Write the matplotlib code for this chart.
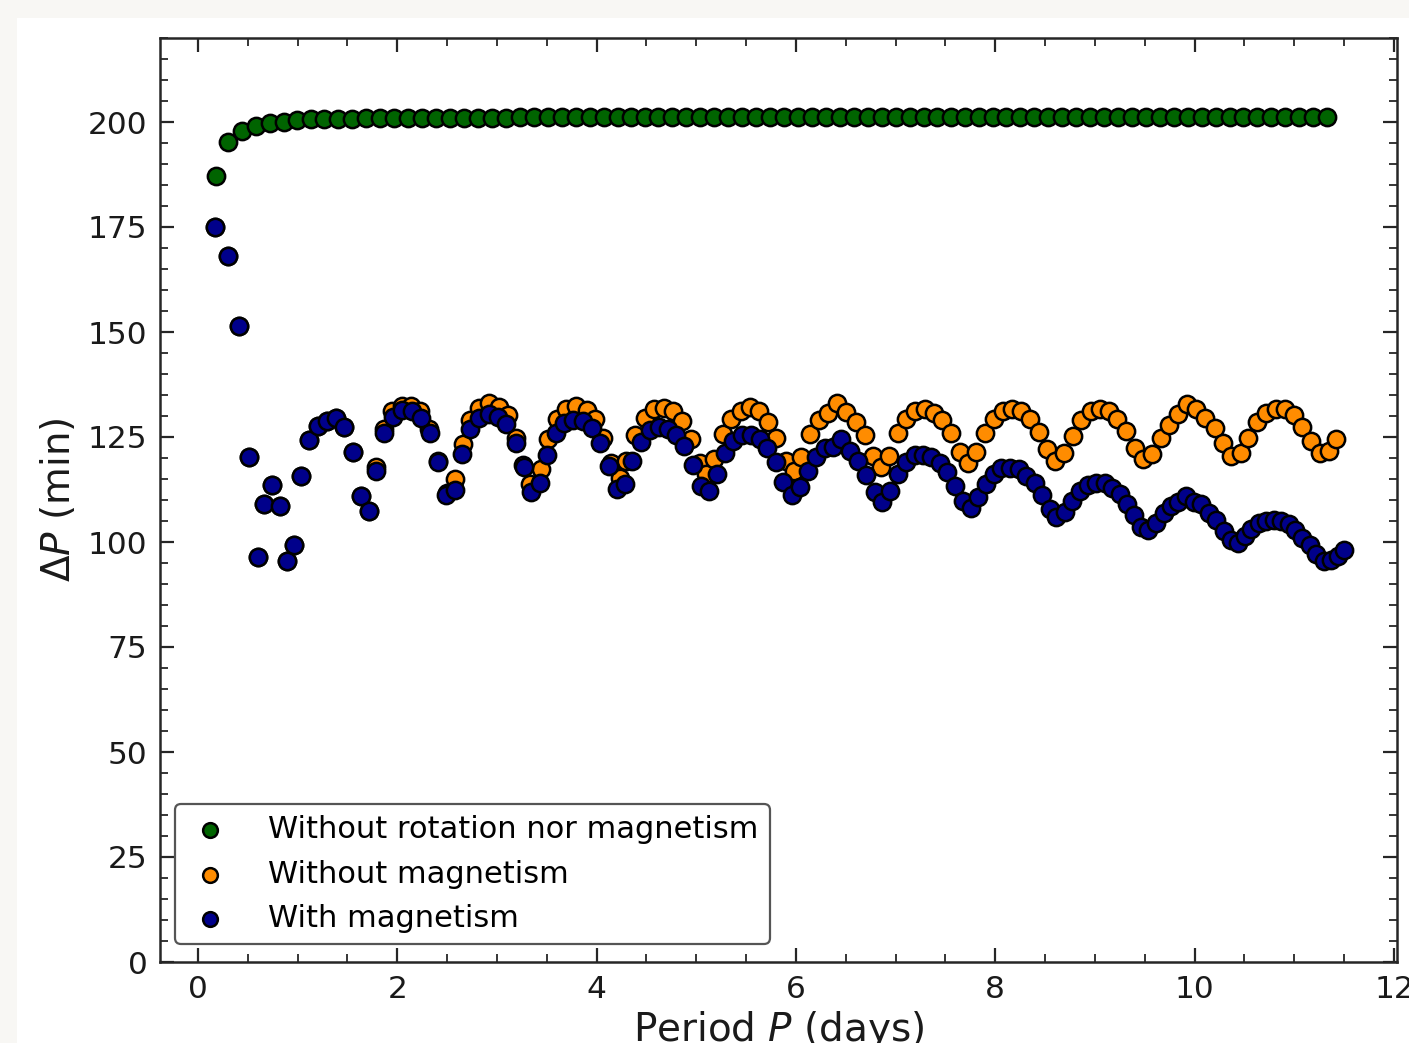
import matplotlib
matplotlib.use("Agg")
import matplotlib.pyplot as plt
from matplotlib.patches import Rectangle

# === Данные: без вращения и магнетизма ===
p_green = [0.18, 0.30, 0.44, 0.58, 0.72, 0.86, 0.99, 1.13, 1.27, 1.41, 1.55, 1.69,
           1.83, 1.97, 2.11, 2.25, 2.39, 2.53, 2.67, 2.81, 2.95, 3.09, 3.23, 3.37,
           3.51, 3.65, 3.79, 3.93, 4.07, 4.21, 4.35, 4.49, 4.62, 4.76, 4.90, 5.04,
           5.18, 5.32, 5.46, 5.60, 5.74, 5.88, 6.02, 6.16, 6.30, 6.44, 6.58, 6.72,
           6.86, 7.00, 7.14, 7.28, 7.42, 7.56, 7.70, 7.84, 7.98, 8.11, 8.25, 8.39,
           8.53, 8.67, 8.81, 8.95, 9.09, 9.23, 9.37, 9.51, 9.65, 9.79, 9.93, 10.07,
           10.21, 10.35, 10.49, 10.63, 10.77, 10.91, 11.05, 11.19, 11.33]
dp_green = [187.2, 195.2, 197.9, 199.0, 199.7, 200.1, 200.4, 200.6, 200.7, 200.8,
            200.8, 200.9, 200.9, 200.9, 201.0, 201.0, 201.0, 201.0, 201.0, 201.0,
            201.0, 201.0, 201.1, 201.1, 201.1, 201.1, 201.1, 201.1, 201.1, 201.1,
            201.1, 201.1, 201.1, 201.1, 201.1, 201.1, 201.1, 201.1, 201.1, 201.1,
            201.1, 201.2, 201.2, 201.2, 201.2, 201.2, 201.2, 201.2, 201.2, 201.2,
            201.2, 201.2, 201.2, 201.2, 201.2, 201.2, 201.2, 201.2, 201.2, 201.2,
            201.2, 201.2, 201.2, 201.2, 201.2, 201.2, 201.2, 201.2, 201.2, 201.2,
            201.2, 201.2, 201.2, 201.2, 201.2, 201.2, 201.2, 201.2, 201.2, 201.2,
            201.2]

# === Данные: с магнетизмом ===
p_blue = [0.176, 0.301, 0.411, 0.517, 0.599, 0.667, 0.739, 0.822, 0.898, 0.963,
          1.033, 1.113, 1.201, 1.294, 1.381, 1.467, 1.555, 1.638, 1.715, 1.792,
          1.871, 1.956, 2.051, 2.146, 2.242, 2.327, 2.410, 2.494, 2.578, 2.645,
          2.728, 2.822, 2.916, 3.012, 3.096, 3.190, 3.270, 3.347, 3.430, 3.498,
          3.588, 3.671, 3.764, 3.859, 3.955, 4.032, 4.122, 4.200, 4.283, 4.360,
          4.443, 4.534, 4.624, 4.717, 4.801, 4.877, 4.968, 5.045, 5.128, 5.213,
          5.286, 5.369, 5.459, 5.554, 5.637, 5.714, 5.797, 5.875, 5.965, 6.045,
          6.121, 6.199, 6.289, 6.372, 6.456, 6.540, 6.623, 6.707, 6.790, 6.868,
          6.941, 7.024, 7.108, 7.192, 7.275, 7.359, 7.442, 7.519, 7.593, 7.676,
          7.760, 7.830, 7.911, 7.987, 8.061, 8.144, 8.235, 8.312, 8.395, 8.468,
          8.545, 8.613, 8.696, 8.770, 8.847, 8.930, 9.014, 9.097, 9.170, 9.247,
          9.325, 9.391, 9.465, 9.531, 9.615, 9.689, 9.759, 9.833, 9.917, 9.993,
          10.067, 10.140, 10.218, 10.294, 10.368, 10.434, 10.502, 10.569, 10.642, 10.719,
          10.795, 10.870, 10.943, 11.010, 11.076, 11.154, 11.220, 11.297, 11.364, 11.434,
          11.500]
dp_blue = [175.0, 168.1, 151.4, 120.2, 96.4, 109.0, 113.6, 108.5, 95.5, 99.4,
           115.8, 124.4, 127.6, 128.8, 129.6, 127.4, 121.4, 111.0, 107.3, 116.9,
           125.9, 129.8, 131.4, 131.2, 129.6, 126.0, 119.0, 111.3, 112.5, 120.9,
           126.8, 129.6, 130.4, 129.8, 128.0, 123.5, 117.9, 112.0, 114.0, 120.7,
           125.9, 128.4, 129.0, 128.7, 127.1, 123.6, 118.1, 112.7, 113.7, 119.4,
           123.8, 126.6, 127.5, 126.8, 125.4, 122.9, 118.3, 113.3, 112.1, 116.2,
           121.1, 124.0, 125.4, 125.4, 124.6, 122.5, 119.0, 114.3, 111.1, 113.2,
           116.9, 120.3, 122.5, 122.7, 124.5, 121.7, 119.3, 115.9, 111.9, 109.5,
           112.1, 116.1, 119.0, 120.6, 120.6, 120.3, 118.9, 116.7, 113.3, 109.8,
           108.2, 110.8, 113.7, 116.1, 117.7, 117.7, 117.3, 115.7, 114.0, 111.1,
           107.9, 106.0, 107.1, 109.8, 112.1, 113.5, 114.1, 114.0, 112.9, 111.4,
           109.0, 106.4, 103.6, 102.9, 104.6, 106.9, 108.6, 109.5, 111.0, 109.5,
           109.0, 107.0, 105.2, 102.6, 100.5, 99.8, 101.4, 103.0, 104.5, 105.0,
           105.2, 105.0, 104.2, 102.9, 101.0, 99.2, 97.1, 95.5, 95.7, 96.7,
           98.1]

# === Данные: без магнетизма (начало совпадает с синей серией) ===
p_orange = p_blue[:19] + [
    1.792, 1.869, 1.951, 2.043, 2.136, 2.227, 2.317, 2.407, 2.497, 2.578,
    2.655, 2.733, 2.823, 2.922, 3.024, 3.114, 3.190, 3.265, 3.335, 3.440,
    3.514, 3.598, 3.698, 3.798, 3.899, 3.982, 4.065, 4.149, 4.233, 4.300,
    4.383, 4.483, 4.577, 4.674, 4.767, 4.852, 4.945, 5.035, 5.102, 5.176,
    5.266, 5.353, 5.446, 5.544, 5.630, 5.720, 5.804, 5.905, 5.978, 6.055,
    6.138, 6.232, 6.322, 6.412, 6.507, 6.600, 6.690, 6.773, 6.858, 6.934,
    7.024, 7.108, 7.192, 7.292, 7.382, 7.469, 7.560, 7.643, 7.726, 7.806,
    7.894, 7.987, 8.077, 8.168, 8.262, 8.345, 8.435, 8.523, 8.603, 8.689,
    8.779, 8.864, 8.957, 9.047, 9.137, 9.225, 9.315, 9.405, 9.481, 9.572,
    9.659, 9.739, 9.833, 9.927, 10.017, 10.107, 10.201, 10.284, 10.368, 10.461,
    10.535, 10.629, 10.719, 10.819, 10.903, 10.996, 11.076, 11.163, 11.254, 11.344,
    11.421]
dp_orange = dp_blue[:19] + [
    117.9, 126.9, 131.2, 132.4, 132.3, 131.2, 126.9, 119.3, 111.7, 114.9,
    123.3, 129.0, 132.0, 133.0, 132.1, 130.2, 124.8, 118.3, 113.7, 117.5,
    124.5, 129.4, 131.6, 132.5, 131.4, 129.2, 124.8, 118.7, 115.3, 119.3,
    125.4, 129.6, 131.6, 132.0, 131.2, 128.8, 124.5, 118.8, 116.1, 119.7,
    125.7, 129.2, 131.2, 132.2, 131.2, 128.6, 124.8, 119.3, 116.9, 120.3,
    125.6, 129.0, 130.6, 133.0, 131.0, 128.6, 125.4, 120.5, 117.9, 120.5,
    125.9, 129.2, 131.2, 131.7, 130.8, 129.0, 125.9, 121.4, 118.7, 121.4,
    125.9, 129.2, 131.2, 131.7, 131.2, 129.4, 126.2, 122.1, 119.3, 121.3,
    125.2, 129.0, 131.2, 131.7, 131.2, 129.4, 126.4, 122.5, 119.7, 120.9,
    124.8, 127.8, 130.4, 132.8, 131.6, 129.6, 127.2, 123.6, 120.5, 121.3,
    124.8, 128.6, 130.8, 131.7, 131.6, 130.2, 127.5, 124.0, 121.1, 121.7,
    124.6]

labels = ["Without rotation nor magnetism", "Without magnetism", "With magnetism"]
colors = ["#006400", "#ff8c00", "#00008b"]

# === Фигура ===
fig = plt.figure(figsize=(14.09, 10.43), dpi=100, facecolor="#f8f7f4")
fig.patches.append(Rectangle((17 / 1409, 0), 1 - 17 / 1409, 1 - 18 / 1043,
                             transform=fig.transFigure, facecolor="white",
                             edgecolor="none", zorder=-10))
ax = fig.add_axes([160 / 1409, 1 - 962 / 1043, 1237 / 1409, 924 / 1043])

ms = 155
ax.scatter(p_green, dp_green, s=ms, c=colors[0], edgecolors="black", linewidths=1.8, label=labels[0], zorder=3)
ax.scatter(p_orange, dp_orange, s=ms, c=colors[1], edgecolors="black", linewidths=1.8, label=labels[1], zorder=3)
ax.scatter(p_blue, dp_blue, s=ms, c=colors[2], edgecolors="black", linewidths=1.8, label=labels[2], zorder=3)

ax.set_xlim(-0.38, 12.03)
ax.set_ylim(0, 220)
ax.set_xticks([0, 2, 4, 6, 8, 10, 12])
ax.set_yticks([0, 25, 50, 75, 100, 125, 150, 175, 200])
ax.set_xticks([x * 0.5 for x in range(0, 24)], minor=True)
ax.set_yticks(list(range(0, 221, 5)), minor=True)

ax.tick_params(which="both", direction="in", top=True, right=True, colors="#262626",
               labelcolor="#1a1a1a", labelsize=22.5)
ax.tick_params(which="major", length=10, width=1.6, pad=9)
ax.tick_params(which="minor", length=5.5, width=1.3)
for s in ax.spines.values():
    s.set_linewidth(1.8)
    s.set_color("#262626")

ax.set_xlabel("Period $P$ (days)", fontsize=28, color="#1a1a1a", labelpad=4)
ax.set_ylabel(r"$\Delta P$ (min)", fontsize=28, color="#1a1a1a", labelpad=7)

leg = ax.legend(loc="lower left", fontsize=22, scatterpoints=1, markerscale=0.85,
                frameon=True, fancybox=True, edgecolor="#555555", framealpha=1,
                borderpad=0.36, handlelength=1.6, handletextpad=1.1, labelspacing=0.52,
                bbox_to_anchor=(0.012, 0.019), borderaxespad=0)
leg.get_frame().set_linewidth(1.6)

fig.savefig("out.png", dpi=100, facecolor=fig.get_facecolor())
